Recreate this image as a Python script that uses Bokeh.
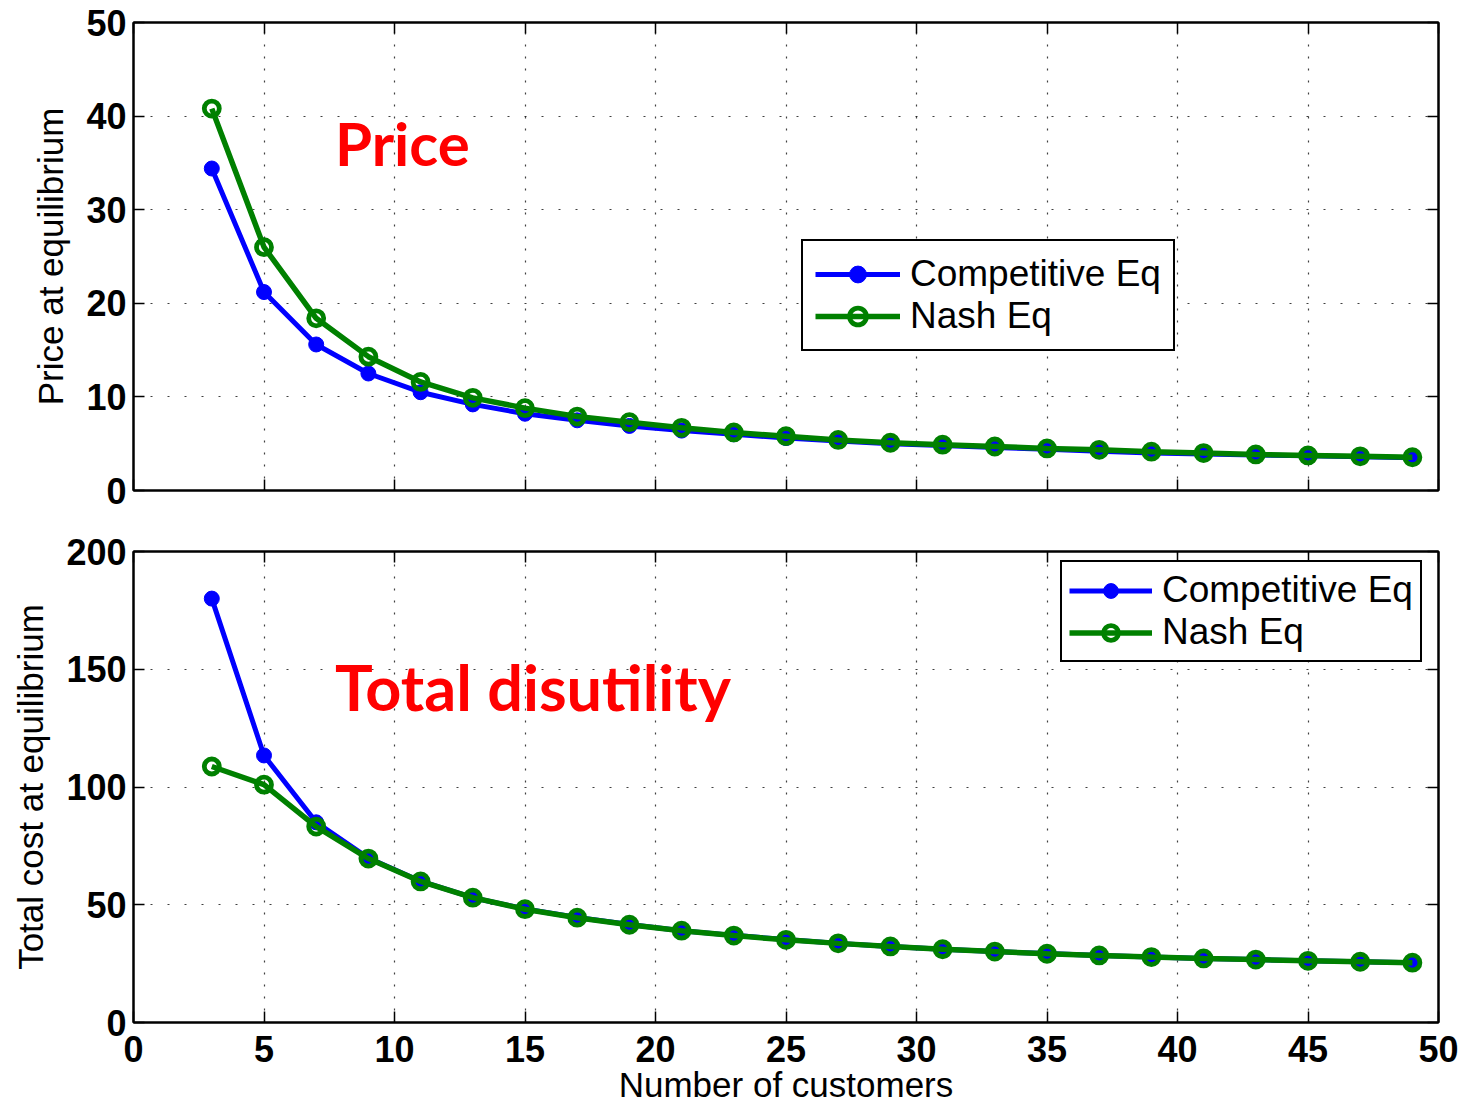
from bokeh.plotting import figure
from bokeh.models import Range1d, LinearAxis, FixedTicker, Legend, LegendItem, Label
from bokeh.layouts import column
from bokeh.embed import file_html
from bokeh.resources import INLINE

# ---- data ----
customers = [3, 5, 7, 9, 11, 13, 15, 17, 19, 21, 23, 25, 27, 29, 31, 33, 35, 37, 39, 41, 43, 45, 47, 49]
price_comp = [34.4, 21.2, 15.6, 12.5, 10.5, 9.2, 8.2, 7.5, 6.9, 6.4, 6.0, 5.6, 5.3, 5.0, 4.8, 4.6, 4.4, 4.2, 4.0, 3.9, 3.8, 3.7, 3.6, 3.5]
price_nash = [40.8, 26.0, 18.4, 14.3, 11.6, 9.9, 8.8, 7.9, 7.3, 6.7, 6.2, 5.8, 5.4, 5.1, 4.9, 4.7, 4.5, 4.35, 4.15, 4.0, 3.85, 3.75, 3.65, 3.55]
cost_comp = [180.0, 113.4, 85.0, 69.8, 60.0, 53.0, 48.2, 44.6, 41.6, 39.0, 37.0, 35.2, 33.6, 32.3, 31.1, 30.1, 29.3, 28.5, 27.8, 27.2, 26.7, 26.2, 25.8, 25.4]
cost_nash = [108.7, 101.0, 83.2, 69.6, 59.9, 53.0, 48.1, 44.5, 41.5, 39.0, 36.9, 35.1, 33.6, 32.3, 31.1, 30.1, 29.2, 28.5, 27.8, 27.2, 26.7, 26.2, 25.8, 25.4]
x_ticks = [0, 5, 10, 15, 20, 25, 30, 35, 40, 45, 50]
price_ticks = [0, 10, 20, 30, 40, 50]
cost_ticks = [0, 50, 100, 150, 200]
series_labels = ["Competitive Eq", "Nash Eq"]

BLUE = "#0000ff"
GREEN = "#008000"
FONT = "Liberation Sans"


def style_axis(ax, ticks, show_labels, standoff, label_standoff):
    ax.ticker = FixedTicker(ticks=ticks)
    ax.major_tick_in = 11
    ax.major_tick_out = 0
    ax.minor_tick_line_color = None
    ax.axis_line_width = 2
    ax.axis_line_color = "black"
    ax.major_tick_line_width = 1.5
    ax.major_tick_line_color = "black"
    ax.major_label_text_font = FONT
    ax.major_label_text_font_size = "36px"
    ax.major_label_text_font_style = "bold"
    ax.major_label_text_color = "black"
    ax.major_label_standoff = standoff
    ax.axis_label_text_font = FONT
    ax.axis_label_text_font_size = "35px"
    ax.axis_label_text_font_style = "normal"
    ax.axis_label_text_color = "black"
    ax.axis_label_standoff = label_standoff
    if not show_labels:
        ax.major_label_text_font_size = "0px"
        ax.major_label_text_color = None


def make_fig(height, ymax, yticks, ylabel, show_x, xlabel, border_top, border_bottom):
    p = figure(width=1463, height=height, output_backend="svg", toolbar_location=None,
               x_range=Range1d(0, 50), y_range=Range1d(0, ymax),
               min_border_left=133, min_border_right=25,
               min_border_top=border_top, min_border_bottom=border_bottom)
    p.background_fill_color = "white"
    p.border_fill_color = "white"
    p.outline_line_color = "black"
    p.outline_line_width = 2
    style_axis(p.xaxis[0], x_ticks, show_x, 13, 0)
    style_axis(p.yaxis[0], yticks, True, 7, 13)
    if xlabel:
        p.xaxis[0].axis_label = xlabel
    p.yaxis[0].axis_label = ylabel
    top = LinearAxis()
    style_axis(top, x_ticks, False, 0, 0)
    right = LinearAxis()
    style_axis(right, yticks, False, 0, 0)
    p.add_layout(top, "above")
    p.add_layout(right, "right")
    p.xgrid.ticker = FixedTicker(ticks=x_ticks)
    p.ygrid.ticker = FixedTicker(ticks=yticks)
    for g in (p.xgrid[0], p.ygrid[0]):
        g.grid_line_color = "black"
        g.grid_line_alpha = 0.75
        g.grid_line_width = 1.2
    p.xgrid[0].grid_line_dash = "2 10"
    p.ygrid[0].grid_line_dash = "2 15"
    return p


def add_series(p, ys_comp, ys_nash):
    l1 = p.line(customers, ys_comp, line_color=BLUE, line_width=5)
    s1 = p.scatter(customers, ys_comp, marker="circle", size=15, fill_color=BLUE, line_color=BLUE)
    l2 = p.line(customers, ys_nash, line_color=GREEN, line_width=5.5)
    s2 = p.scatter(customers, ys_nash, marker="circle", size=15, fill_color=None,
                   line_color=GREEN, line_width=4.8)
    return [LegendItem(label=series_labels[0], renderers=[l1, s1]),
            LegendItem(label=series_labels[1], renderers=[l2, s2])]


def add_legend(p, items, loc, label_h, glyph_w, pad):
    leg = Legend(items=items, location=loc)
    leg.label_text_font = FONT
    leg.label_text_font_size = "37px"
    leg.label_text_color = "black"
    leg.glyph_width = glyph_w
    leg.glyph_height = label_h
    leg.label_height = label_h
    leg.spacing = 0
    leg.padding = pad
    leg.margin = 0
    leg.label_standoff = 10
    leg.border_line_color = "black"
    leg.border_line_alpha = 1
    leg.border_line_width = 2.5
    leg.background_fill_color = "white"
    leg.background_fill_alpha = 1
    p.add_layout(leg, "center")


# ---- top figure: price ----
p1 = make_fig(520, 50, price_ticks, "Price at equilibrium", False, None, 22, 30)
items1 = add_series(p1, price_comp, price_nash)
add_legend(p1, items1, (668, 139), 42, 85, 12)
p1.add_layout(Label(x=7.72, y=37.1, text="Price", text_font="Lato", text_font_size="60px",
                    text_font_style="bold", text_color="#ff0000", text_baseline="alphabetic"))

# ---- bottom figure: total cost ----
p2 = make_fig(586, 200, cost_ticks, "Total cost at equilibrium", True, "Number of customers", 31, 84)
items2 = add_series(p2, cost_comp, cost_nash)
add_legend(p2, items2, (927, 360), 37, 83, 7)
p2.add_layout(Label(x=7.72, y=142.5, text="Total disutility", text_font="Lato", text_font_size="63px",
                    text_font_style="bold", text_color="#ff0000", text_baseline="alphabetic"))

layout = column(p1, p2, spacing=0)
open("out.html", "w").write(file_html(layout, INLINE))
